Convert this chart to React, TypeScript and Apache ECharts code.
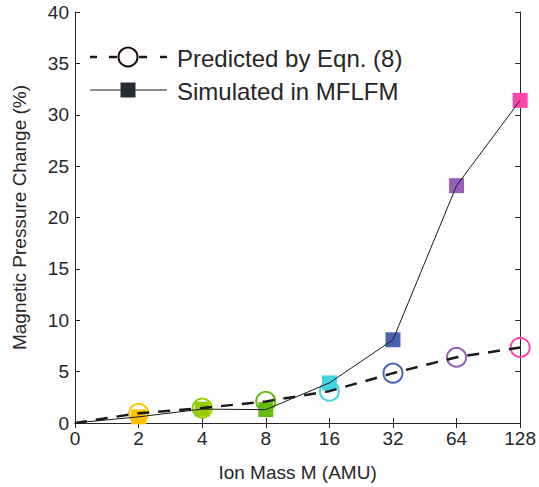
import React, { useEffect, useRef } from "react";
import * as echarts from "echarts";

const categories = ["0", "2", "4", "8", "16", "32", "64", "128"];
const predicted = [0, 0.95, 1.45, 2.1, 3.1, 4.85, 6.4, 7.35];
const simulated = [0, 0.6, 1.35, 1.3, 3.9, 8.1, 23.1, 31.4];
const pointColors = [
  "#000000",
  "#FFC400",
  "#99CC00",
  "#66BB11",
  "#44D4E0",
  "#4A63B5",
  "#9560B5",
  "#FF45A8",
];
const yTicks = { min: 0, max: 40, interval: 5 };
const seriesNames = ["Predicted by Eqn. (8)", "Simulated in MFLFM"];

const FONT = "'Liberation Sans', Arial, Helvetica, sans-serif";
const TXT = "#262626";

export default function App() {
  const ref = useRef<HTMLDivElement>(null);
  useEffect(() => {
    if (!ref.current) return;
    const chart = echarts.init(ref.current, undefined, { renderer: "svg" });
    const axisCommon = {
      axisLine: { show: true, lineStyle: { color: TXT, width: 1 } },
      axisTick: { show: true, inside: true, length: 5, lineStyle: { color: TXT } },
      splitLine: { show: false },
    };
    const squares = simulated.map((v, i) => ({
      value: v,
      symbol: i === 0 ? "none" : "rect",
      itemStyle: { color: pointColors[i] },
    }));
    const circles = predicted.map((v, i) => ({
      value: v,
      symbol: i === 0 ? "none" : "circle",
      itemStyle: {
        color: "rgba(0,0,0,0)",
        borderColor: pointColors[i],
        borderWidth: 2,
      },
    }));
    chart.setOption({
      animation: false,
      backgroundColor: "#ffffff",
      textStyle: { fontFamily: FONT },
      grid: { left: 75, right: 17, top: 12, bottom: 60, containLabel: false },
      xAxis: [
        {
          type: "category",
          data: categories,
          boundaryGap: false,
          ...axisCommon,
          axisTick: { ...axisCommon.axisTick, alignWithLabel: true },
          axisLabel: { color: TXT, fontSize: 19, fontFamily: FONT, margin: 6 },
          name: "Ion Mass M (AMU)",
          nameLocation: "middle",
          nameGap: 40,
          nameTextStyle: { color: TXT, fontSize: 19, fontFamily: FONT },
        },
        {
          type: "category",
          data: categories,
          boundaryGap: false,
          position: "top",
          ...axisCommon,
          axisLabel: { show: false },
        },
      ],
      yAxis: [
        {
          type: "value",
          ...yTicks,
          ...axisCommon,
          axisLabel: { color: TXT, fontSize: 19, fontFamily: FONT, margin: 6 },
          name: "Magnetic Pressure Change (%)",
          nameLocation: "middle",
          nameGap: 46,
          nameTextStyle: { color: TXT, fontSize: 19, fontFamily: FONT },
        },
        {
          type: "value",
          ...yTicks,
          position: "right",
          ...axisCommon,
          axisLabel: { show: false },
        },
      ],
      series: [
        {
          name: seriesNames[0] + " markers",
          type: "line",
          data: circles,
          symbolSize: 19,
          lineStyle: { opacity: 0 },
          z: 2,
        },
        {
          name: seriesNames[1] + " markers",
          type: "line",
          data: squares,
          symbolSize: 15,
          lineStyle: { opacity: 0 },
          z: 3,
        },
        {
          name: seriesNames[1],
          type: "line",
          data: simulated,
          symbol: "none",
          lineStyle: { color: "#1a1a1a", width: 1 },
          z: 4,
        },
        {
          name: seriesNames[0],
          type: "line",
          data: predicted,
          symbol: "none",
          lineStyle: { color: "#1a1a1a", width: 2.5, type: [12, 9] },
          z: 5,
        },
      ],
      graphic: [
        { type: "line", shape: { x1: 90, y1: 57, x2: 97, y2: 57 }, style: { stroke: "#1a1a1a", lineWidth: 2.5 } },
        { type: "line", shape: { x1: 109, y1: 57, x2: 117, y2: 57 }, style: { stroke: "#1a1a1a", lineWidth: 2.5 } },
        { type: "line", shape: { x1: 139, y1: 57, x2: 147, y2: 57 }, style: { stroke: "#1a1a1a", lineWidth: 2.5 } },
        { type: "line", shape: { x1: 160, y1: 57, x2: 167, y2: 57 }, style: { stroke: "#1a1a1a", lineWidth: 2.5 } },
        { type: "circle", shape: { cx: 128, cy: 57, r: 9.5 }, style: { fill: "#ffffff", stroke: "#1a0808", lineWidth: 2 } },
        { type: "line", shape: { x1: 90, y1: 90, x2: 167, y2: 90 }, style: { stroke: "#1a1a1a", lineWidth: 1 } },
        { type: "rect", shape: { x: 120.5, y: 82.5, width: 15, height: 15 }, style: { fill: "#262b33" } },
        { type: "text", x: 177, y: 58, style: { text: seriesNames[0], fill: TXT, font: "24px " + FONT, verticalAlign: "middle" } },
        { type: "text", x: 177, y: 91, style: { text: seriesNames[1], fill: TXT, font: "24px " + FONT, verticalAlign: "middle" } },
      ],
    });
    return () => chart.dispose();
  }, []);
  return (
    <div
      ref={ref}
      style={{ position: "fixed", left: 0, top: 0, width: 539, height: 487 }}
    />
  );
}
